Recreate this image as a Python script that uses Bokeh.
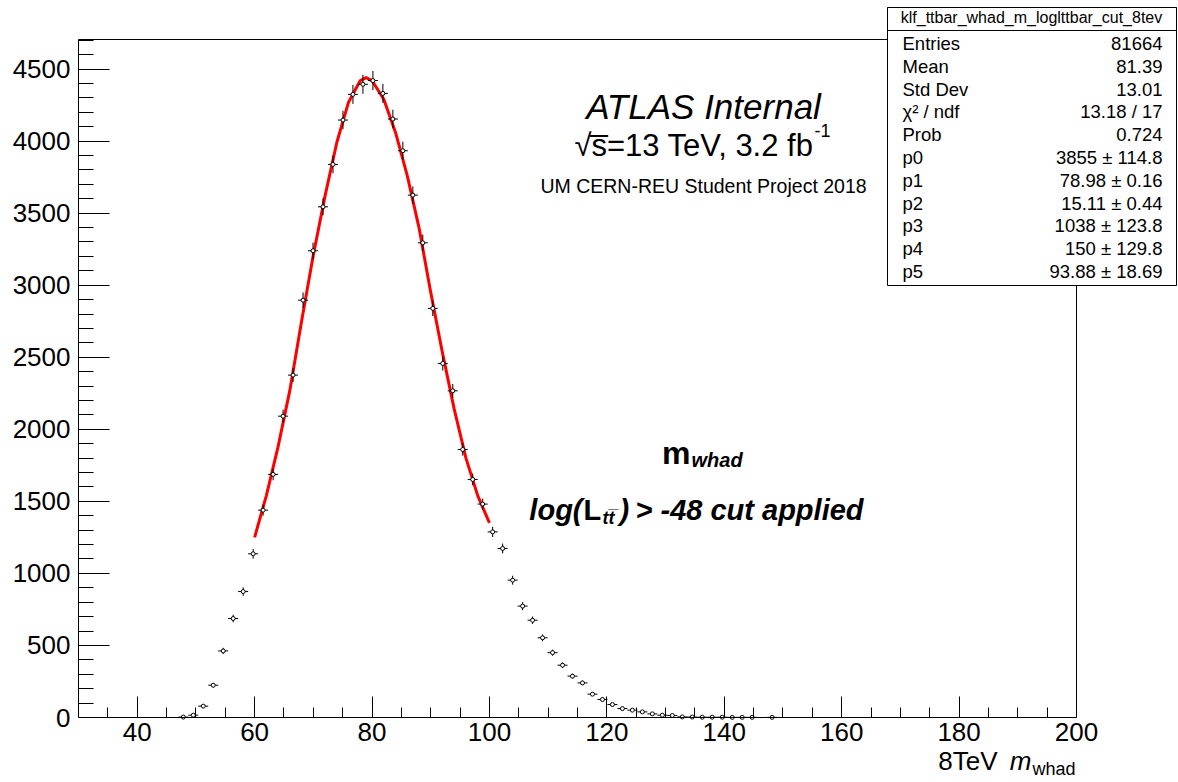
import numpy as np
from bokeh.plotting import figure
from bokeh.models import Label, BoxAnnotation, FixedTicker, LinearAxis
from bokeh.embed import file_html
from bokeh.resources import INLINE

# ---------------- data ----------------
bin_centers = [47.85, 49.55, 51.25, 52.95, 54.65, 56.35, 58.05, 59.75, 61.45, 63.15,
               64.85, 66.55, 68.25, 69.95, 71.65, 73.35, 75.05, 76.75, 78.45, 80.15,
               81.85, 83.55, 85.25, 86.95, 88.65, 90.35, 92.05, 93.75, 95.45, 97.15,
               98.85, 100.55, 102.25, 103.95, 105.65, 107.35, 109.05, 110.75, 112.45, 114.15,
               115.85, 117.55, 119.25, 120.95, 122.65, 124.35, 126.05, 127.75, 129.45, 131.15,
               132.85, 134.55, 136.25, 137.95, 139.65, 141.35, 143.05, 144.75, 148.15]
counts = [3, 16, 79, 224, 462, 687, 874, 1136, 1439, 1687,
          2091, 2376, 2896, 3239, 3544, 3838, 4146, 4324, 4394, 4420,
          4331, 4153, 3933, 3625, 3294, 2839, 2457, 2267, 1860, 1652,
          1481, 1288, 1173, 953, 773, 675, 553, 450, 363, 287,
          240, 162, 125, 90, 62, 51, 39, 25, 16, 14,
          4, 3, 2, 2, 2, 1, 1, 1, 1]
bin_width = 1.7

fit_x = [60, 62, 64, 66, 68, 70, 72, 74, 76, 78, 79, 80, 82, 84, 86, 88, 90, 92, 94, 96, 98, 100]
fit_y = [1250, 1540, 1880, 2270, 2750, 3210, 3620, 3990, 4270, 4420, 4440, 4420, 4290, 4060,
         3760, 3400, 2950, 2530, 2140, 1800, 1540, 1350]

x_major_ticks = [40, 60, 80, 100, 120, 140, 160, 180, 200]
x_minor_ticks = [35, 45, 50, 55, 65, 70, 75, 85, 90, 95, 105, 110, 115, 125, 130, 135,
                 145, 150, 155, 165, 170, 175, 185, 190, 195]
y_major_ticks = [0, 500, 1000, 1500, 2000, 2500, 3000, 3500, 4000, 4500]
y_minor_ticks = [v for v in range(100, 4701, 100) if v % 500 != 0]

stat_title = "klf_ttbar_whad_m_loglttbar_cut_8tev"
stat_names = ["Entries", "Mean", "Std Dev", "\u03c7\u00b2 / ndf", "Prob",
              "p0", "p1", "p2", "p3", "p4", "p5"]
stat_values = ["81664", "81.39", "13.01", "13.18 / 17", "0.724",
               "3855 \u00b1 114.8", "78.98 \u00b1 0.16", "15.11 \u00b1 0.44",
               "1038 \u00b1 123.8", "150 \u00b1 129.8", "93.88 \u00b1 18.69"]

# ---------------- layout ----------------
XA, XB = 30, 200          # visible histogram axis range
YA, YB = 0, 4705
W, H = 1178, 782
PL, PR, PT, PB = 78, 1076, 39, 717   # pixel position of the histogram frame
FONT = "Liberation Sans"

sx = (PR - PL) / (XB - XA)
sy = (PB - PT) / (YB - YA)


def dx(px):
    return XA + (px - PL) / sx


def dy(py):
    return YA + (PB - py) / sy


# the Bokeh frame covers the whole canvas; axes are pinned with fixed_location
p = figure(width=W, height=H, x_range=(dx(0), dx(W)), y_range=(dy(H), dy(0)),
           output_backend="svg", toolbar_location=None, title=None,
           min_border_left=0, min_border_right=0, min_border_top=0, min_border_bottom=0)
p.outline_line_color = None
p.xgrid.visible = False
p.ygrid.visible = False
p.background_fill_color = "white"
p.border_fill_color = "white"

xa = p.xaxis[0]
ya = p.yaxis[0]
xa.fixed_location = YA
ya.fixed_location = XA
xa.bounds = (XA, XB)
ya.bounds = (YA, YB)
xa.ticker = FixedTicker(ticks=x_major_ticks, minor_ticks=x_minor_ticks)
ya.ticker = FixedTicker(ticks=y_major_ticks, minor_ticks=y_minor_ticks)
for ax in (xa, ya):
    ax.axis_line_color = "black"
    ax.axis_line_width = 1
    ax.major_tick_out = 0
    ax.minor_tick_out = 0
    ax.major_tick_line_color = "black"
    ax.minor_tick_line_color = "black"
    ax.major_label_text_font = FONT
    ax.major_label_text_font_size = "26px"
    ax.major_label_text_color = "black"
xa.major_tick_in = 21
xa.minor_tick_in = 10
ya.major_tick_in = 31
ya.minor_tick_in = 15
ya.major_label_standoff = 8
xa.major_label_standoff = 5

# top and right frame edges
top_ax = LinearAxis(fixed_location=YB, bounds=(XA, XB), ticker=FixedTicker(ticks=[]),
                    major_tick_line_color=None, minor_tick_line_color=None,
                    major_label_text_color=None, axis_line_color="black", axis_line_width=1)
right_ax = LinearAxis(fixed_location=XB, bounds=(YA, YB), ticker=FixedTicker(ticks=[]),
                      major_tick_line_color=None, minor_tick_line_color=None,
                      major_label_text_color=None, axis_line_color="black", axis_line_width=1)
p.add_layout(top_ax, "above")
p.add_layout(right_ax, "right")

# ---------------- data marks ----------------
xc = np.array(bin_centers, dtype=float)
yc = np.array(counts, dtype=float)
err = np.sqrt(yc)
half = bin_width / 2.0

p.line(fit_x, fit_y, line_color="#ff0000", line_width=3)
p.segment(x0=xc - half, x1=xc + half, y0=yc, y1=yc, line_color="black", line_width=1)
p.segment(x0=xc, x1=xc, y0=yc - err, y1=yc + err, line_color="black", line_width=1)
p.scatter(xc, yc, marker="circle", size=4, fill_color="white", line_color="black", line_width=1)


def lab(text, px, py, size, style="normal", align="left", base="alphabetic"):
    p.add_layout(Label(x=dx(px), y=dy(py), text=text, text_font=FONT,
                       text_font_size=size, text_font_style=style,
                       text_align=align, text_baseline=base, text_color="black"))


# ---------------- texts ----------------
lab("ATLAS Internal", 703, 106, "35px", "italic", "center")
lab("\u221as\u0305=13 TeV, 3.2 fb", 813, 145, "31px", "normal", "right")
lab("-1", 814, 130, "18px", "normal", "left")
lab("UM CERN-REU Student Project 2018", 703, 185, "19.5px", "normal", "center")

lab("m", 690, 452, "32px", "bold", "right")
lab("whad", 691, 459, "20px", "bold italic", "left")

lab("log(", 582, 509, "29px", "bold italic", "right")
lab("L", 583, 509, "29px", "bold", "left")
lab("t\u0074\u0305", 602, 517, "18px", "bold italic", "left")
lab(")", 619, 509, "29px", "bold italic", "left")
lab("> -48 cut applied", 635, 509, "29px", "bold italic", "left")

# x-axis title
lab("whad", 1075, 768, "18px", "normal", "right")
lab("m", 1031, 760, "26px", "italic", "right")
lab("8TeV", 997, 760, "26px", "normal", "right")

# ---------------- stat box ----------------
p.add_layout(BoxAnnotation(left=dx(887), right=dx(1176), top=dy(7), bottom=dy(285),
                           fill_color="white", fill_alpha=1.0,
                           line_color="black", line_width=1, line_alpha=1.0))
p.add_layout(BoxAnnotation(left=dx(887), right=dx(1176), top=dy(7), bottom=dy(30),
                           fill_color="white", fill_alpha=1.0,
                           line_color="black", line_width=1, line_alpha=1.0))
lab(stat_title, 1031, 17, "16px", "normal", "center")
for i, (nm, vl) in enumerate(zip(stat_names, stat_values)):
    base_y = 43 + i * 22.8
    lab(nm, 902, base_y, "18.5px", "normal", "left")
    lab(vl, 1162, base_y, "18.5px", "normal", "right")

open("out.html", "w").write(file_html(p, INLINE))
